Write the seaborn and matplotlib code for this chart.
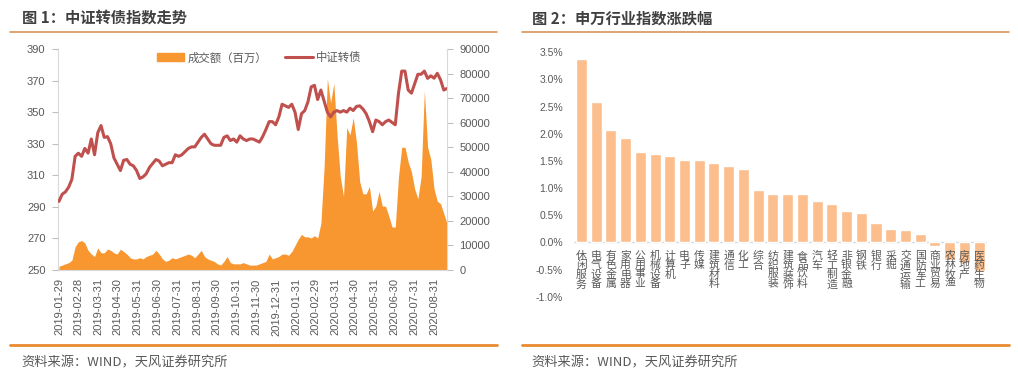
import numpy as np
import pandas as pd
import matplotlib
matplotlib.use('Agg')
import matplotlib.pyplot as plt
import seaborn as sns
from matplotlib.lines import Line2D
from matplotlib.patches import Patch

# ---- 图1：中证转债指数 + 成交额（每5天取一个点） ----
start_date = '2019-01-29'
index_vals = [293.5, 298, 299.5, 302.5, 307.5, 322, 324, 322, 327, 324,
              333, 323, 337, 341.5, 334, 334.5, 330, 321, 317, 313,
              319.5, 320, 317, 316, 313, 308, 309, 311, 315, 317.5,
              320, 319, 316, 317, 318, 318, 323, 322, 323, 325,
              327, 328, 328, 331, 334, 336, 333, 330, 329, 329,
              329, 334, 335, 332, 333, 331, 335, 333, 332, 333,
              333, 332, 331, 334.5, 339, 344, 344, 342, 347, 355,
              354, 353, 355, 350, 339, 349, 351, 356.5, 366, 367,
              358, 364, 357, 350, 347, 350, 351, 350,
              351, 350, 352.5, 351, 353.6, 354, 352, 349, 344, 337.6,
              345, 344, 342, 344, 345, 343.5, 342, 362, 376, 376,
              364, 362, 368, 374, 374, 376, 371.4, 373, 371.5, 374.6,
              370.5, 364, 365]
volume_vals = [1500, 2000, 2500, 3000, 4000, 9500, 11500, 12000, 11000, 8000,
               6500, 5500, 9000, 7000, 7000, 8500, 8000, 7000, 6500, 8500,
               7500, 6500, 5000, 4500, 4500, 5000, 4500, 5500, 6000, 6500,
               8000, 6500, 4500, 3500, 4000, 5000, 4500, 5000, 5500, 6000,
               6500, 6000, 5000, 6500, 8000, 5500, 4500, 4000, 3500, 2500,
               2000, 3500, 5500, 3000, 2500, 2500, 2500, 3000, 2500, 2000,
               2000, 2000, 2500, 3000, 3500, 6500, 4500, 5000, 5500, 6500,
               6500, 6000, 7500, 10000, 12500, 14500, 13500, 13500, 13000, 14000,
               13000, 19000, 42000, 78000, 68000, 76000, 55000, 38000,
               30000, 58000, 55000, 62000, 52000, 36000, 31000, 31000, 34000, 24000,
               26000, 32000, 26000, 26000, 22000, 17500, 17500, 38000, 50000, 50000,
               44000, 40000, 33000, 29000, 38000, 73000, 50000, 45000, 33000, 28000,
               27000, 23000, 19000]
tick_dates = ['2019-01-29', '2019-02-28', '2019-03-31', '2019-04-30', '2019-05-31',
              '2019-06-30', '2019-07-31', '2019-08-31', '2019-09-30', '2019-10-31',
              '2019-11-30', '2019-12-31', '2020-01-31', '2020-02-29', '2020-03-31',
              '2020-04-30', '2020-05-31', '2020-06-30', '2020-07-31', '2020-08-31']

# ---- 图2：申万行业指数涨跌幅（%） ----
industries = ['休闲服务', '电气设备', '有色金属', '家用电器', '公用事业', '机械设备', '计算机',
              '电子', '传媒', '建筑材料', '通信', '化工', '综合', '纺织服装', '建筑装饰',
              '食品饮料', '汽车', '轻工制造', '非银金融', '钢铁', '银行', '采掘', '交通运输',
              '国防军工', '商业贸易', '农林牧渔', '房地产', '医药生物']
changes = [3.37, 2.59, 2.07, 1.92, 1.66, 1.63, 1.59, 1.51, 1.51, 1.46, 1.41, 1.36, 0.96,
           0.90, 0.90, 0.89, 0.77, 0.70, 0.58, 0.55, 0.36, 0.24, 0.235, 0.15, -0.06,
           -0.33, -0.38, -0.52]

ORANGE = '#F8962F'
RED = '#C0504D'
BAR = '#FBBE8C'
GREY = '#595959'
AXIS = '#D9D9D9'

sns.set_style('white')
plt.rcParams['font.family'] = ['Liberation Sans', 'Noto Sans CJK SC', 'DejaVu Sans']

W, H = 1018, 380
fig = plt.figure(figsize=(W / 100, H / 100), dpi=100)

# ---------- 左图 ----------
dates = pd.date_range(start_date, periods=len(index_vals), freq='5D')

ax_vol = fig.add_axes([58 / W, 1 - 270 / H, 389 / W, 221 / H])
ax_vol.fill_between(dates, volume_vals, color=ORANGE, lw=0, zorder=1)
ax_vol.set_ylim(0, 90000)
ax_vol.set_yticks(range(0, 90001, 10000))

ax_line = ax_vol.twinx()
sns.lineplot(x=dates, y=index_vals, ax=ax_line, color=RED, lw=2.2, legend=False)
ax_line.set_ylim(250, 390)
ax_line.set_yticks(range(250, 391, 20))
ax_line.set_xlabel('')
ax_line.set_ylabel('')
# 成交额放右轴，指数放左轴
ax_vol.yaxis.tick_right()
ax_line.yaxis.tick_left()

ax_vol.set_xlim(dates[0] - pd.Timedelta(days=1.5), dates[-1])
ax_vol.set_xticks(pd.to_datetime(tick_dates))
ax_vol.set_xticklabels(tick_dates, rotation=90)
ax_vol.tick_params(axis='x', length=0, pad=6, labelsize=8, labelcolor=GREY)
ax_vol.tick_params(axis='y', length=4, color='#BFBFBF', pad=5, labelsize=8, labelcolor=GREY)
ax_line.tick_params(axis='y', length=4, color='#BFBFBF', pad=5, labelsize=8, labelcolor=GREY)

for s in ['left', 'right', 'bottom']:
    ax_vol.spines[s].set_color(AXIS)
ax_vol.spines['top'].set_visible(False)
for s in ax_line.spines.values():
    s.set_visible(False)

handles = [Patch(color=ORANGE), Line2D([], [], color=RED, lw=2.2)]
ax_line.legend(handles, ['成交额（百万）', '中证转债'], loc='center',
               bbox_to_anchor=(0.517, 0.96), ncol=2, frameon=False, fontsize=8.2,
               handlelength=2.4, columnspacing=1.6, handletextpad=0.3, labelcolor=GREY)

# ---------- 右图 ----------
ax_bar = fig.add_axes([574 / W, 1 - 296.7 / H, 412.5 / W, 244.4 / H])
sns.barplot(x=industries, y=changes, color=BAR, saturation=1, width=0.75, ax=ax_bar)
ax_bar.set_xlim(-0.5, len(industries) - 0.5)
ax_bar.set_ylim(-1.0, 3.5)
yt = np.arange(-1.0, 3.51, 0.5)
ax_bar.set_yticks(yt)
ax_bar.set_yticklabels([f'{v:.1f}%' for v in yt])
ax_bar.set_xticks([])
ax_bar.tick_params(axis='y', length=0, pad=8, labelsize=7.5, labelcolor=GREY)
ax_bar.axhline(0, color=AXIS, lw=1, zorder=0.5)
for s in ax_bar.spines.values():
    s.set_visible(False)
for i, name in enumerate(industries):
    ax_bar.annotate('\n'.join(name), xy=(i, 0), xytext=(0, -6), textcoords='offset points',
                    ha='center', va='top', fontsize=7.8, color=GREY, linespacing=0.92,
                    family=['Noto Sans CJK SC'])

# ---------- 标题、分隔线、来源 ----------
for x0, title in [(22, '图 1：中证转债指数走势'), (532, '图 2：申万行业指数涨跌幅')]:
    fig.text(x0 / W, 1 - 18 / H, title, fontsize=11, fontweight='bold', color='#404040',
             va='center', family=['Noto Sans CJK SC'])
    fig.text((x0 - 1) / W, 1 - 363 / H, '资料来源：WIND，天风证券研究所', fontsize=9.5,
             color=GREY, va='center', family=['Noto Sans CJK SC'])

for x0, x1 in [(9.5, 497), (521.5, 1008.5)]:
    fig.add_artist(Line2D([x0 / W, x1 / W], [1 - 32.3 / H] * 2, color='#D8955A', lw=1.2))
    fig.add_artist(Line2D([x0 / W, x1 / W], [1 - 345 / H] * 2, color='#E98A30', lw=2))

fig.savefig('out.png', dpi=100)
